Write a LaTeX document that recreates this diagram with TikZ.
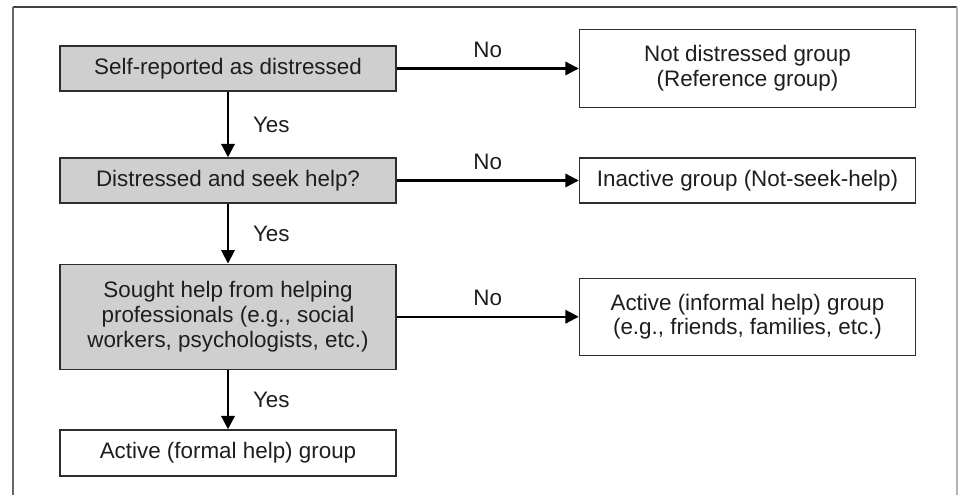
\documentclass[tikz,border=0pt]{standalone}
\usepackage{fontspec}
\setmainfont{Liberation Sans}
\usetikzlibrary{arrows.meta}
\definecolor{boxgray}{RGB}{207,207,207}
\definecolor{ink}{RGB}{30,30,30}
\definecolor{edge}{RGB}{45,45,45}
\begin{document}
\begin{tikzpicture}[x=0.75pt,y=-0.75pt,
  every node/.style={font=\fontsize{16.8}{18.5}\selectfont, text=ink},
  boxbase/.style={draw=edge, line width=1.1pt, rectangle, inner sep=0pt, align=center, minimum width=252pt},
  graybox/.style={boxbase, fill=boxgray},
  whitebox/.style={boxbase, fill=white},
  arr/.style={draw=black, line width=1.6pt, -{Triangle[length=10pt,width=10pt]}},
  lab/.style={inner sep=0pt}
]
\useasboundingbox (0,0) rectangle (963,495);
% frame
\coordinate (ftl) at (13,7);
\coordinate (ftr) at (957,7);
\coordinate (fbl) at (13,495);
\coordinate (fbr) at (957,495);
\draw[line width=1pt, draw=black!75] (ftl) -- (ftr);
\draw[line width=1pt, draw=black!60] (ftl) -- (fbl);
\draw[line width=1pt, draw=black!30] (ftr) -- (fbr);

% left column
\node[graybox, minimum height=33.75pt] (b1) at (228,68.5) {Self-reported as distressed};
\node[graybox, minimum height=33.75pt] (b2) at (228,180.5) {Distressed and seek help?};
\node[graybox, minimum height=78.75pt] (b3) at (228,316.75) {Sought help from helping\\professionals (e.g., social\\workers, psychologists, etc.)};
\node[whitebox, minimum height=34.5pt] (b4) at (228,453) {Active (formal help) group};

% right column
\node[whitebox, minimum height=58.5pt] (r1) at (747.5,68.5) {Not distressed group\\(Reference group)};
\node[whitebox, minimum height=33.75pt] (r2) at (747.5,180.5) {Inactive group (Not-seek-help)};
\node[whitebox, minimum height=57.75pt] (r3) at (747.5,316.75) {Active (informal help) group\\(e.g., friends, families, etc.)};

% connectors
\draw[arr] (b1) -- node[lab, midway, anchor=west, xshift=18pt] {Yes} (b2);
\draw[arr] (b2) -- node[lab, midway, anchor=west, xshift=18pt] {Yes} (b3);
\draw[arr] (b3) -- node[lab, midway, anchor=west, xshift=18pt] {Yes} (b4);
\draw[arr] (b1.east) -- node[lab, midway, yshift=14pt] {No} (r1.west);
\draw[arr] (b2.east) -- node[lab, midway, yshift=14pt] {No} (r2.west);
\draw[arr] (b3.east) -- node[lab, midway, yshift=14pt] {No} (r3.west);
\end{tikzpicture}
\end{document}
